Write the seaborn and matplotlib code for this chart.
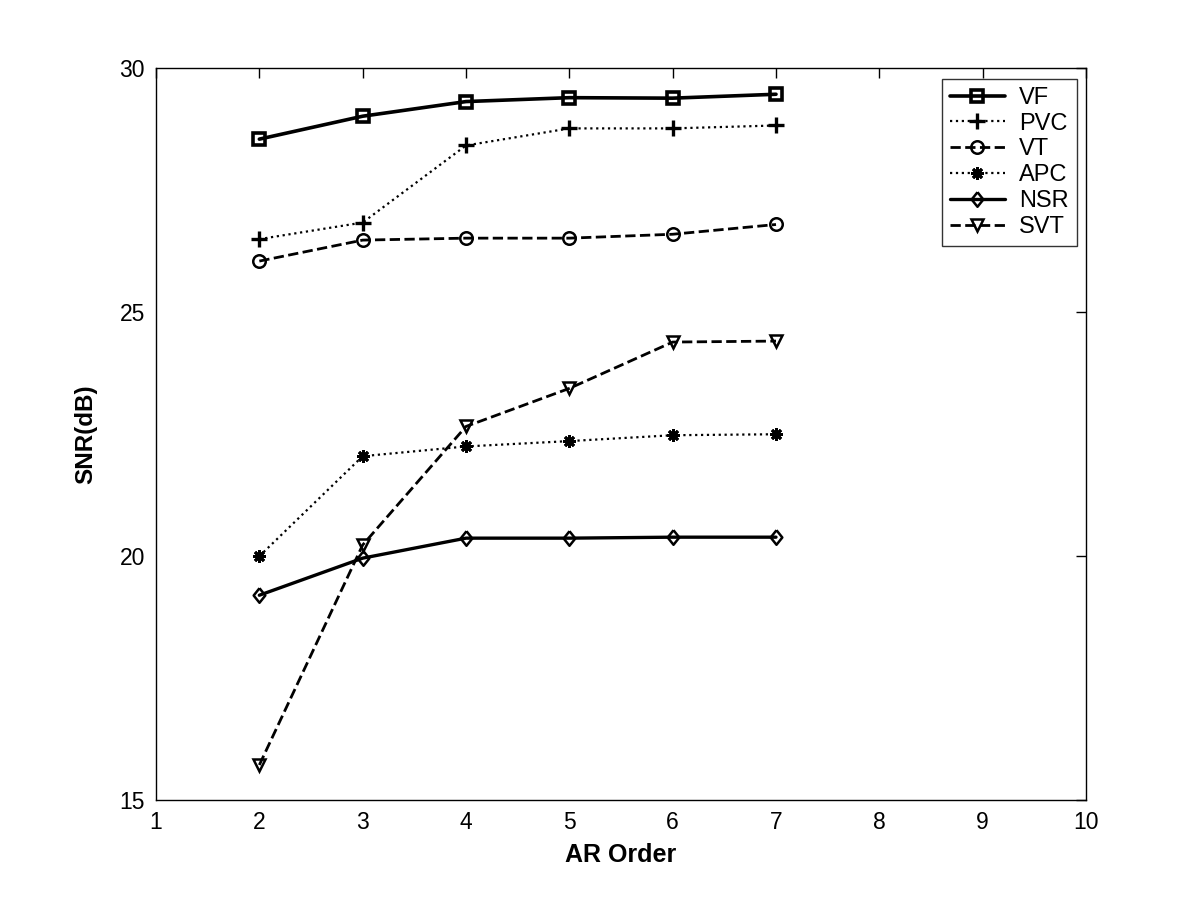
import pandas as pd
import matplotlib
matplotlib.use("Agg")
import matplotlib.pyplot as plt
import seaborn as sns

sns.set_theme(style="white")
plt.rcParams['font.family'] = ['Liberation Sans', 'DejaVu Sans']

# Data
ar_order = [2, 3, 4, 5, 6, 7]
vf = [28.55, 29.02, 29.32, 29.40, 29.39, 29.47]
pvc = [26.50, 26.84, 28.42, 28.77, 28.77, 28.83]
vt = [26.05, 26.48, 26.52, 26.52, 26.60, 26.80]
apc = [20.00, 22.05, 22.25, 22.36, 22.48, 22.50]
nsr = [19.20, 19.96, 20.37, 20.37, 20.39, 20.39]
svt = [15.72, 20.23, 22.66, 23.44, 24.39, 24.41]

series = {'VF': vf, 'PVC': pvc, 'VT': vt, 'APC': apc, 'NSR': nsr, 'SVT': svt}

rows = []
for name, vals in series.items():
    for x, y in zip(ar_order, vals):
        rows.append({'order': x, 'snr': y, 'rhythm': name})
df = pd.DataFrame(rows)

# matlab-like diamond, a bit taller than wide
diamond = [(0, 1), (0.8, 0), (0, -1), (-0.8, 0), (0, 1)]

# line style per rhythm: (linestyle, marker, linewidth, markersize, edgewidth)
styles = {
    'VF':  ('-',  's', 2.6, 8, 2.6),
    'PVC': (':',  '+', 1.6, 12, 2.4),
    'VT':  ('--', 'o', 2.0, 9, 1.8),
    'APC': (':',  (8, 2, 0), 1.6, 9, 2.0),
    'NSR': ('-',  diamond, 2.4, 10.5, 1.8),
    'SVT': ('--', 'v', 2.0, 9, 1.8),
}

fig = plt.figure(figsize=(12, 9), dpi=100)
ax = fig.add_axes([0.13, 0.111, 0.775, 0.813])

for name in series:
    ls, mk, lw, ms, mew = styles[name]
    sub = df[df['rhythm'] == name]
    sns.lineplot(data=sub, x='order', y='snr', ax=ax, color='black',
                 linestyle=ls, linewidth=lw, marker=mk, markersize=ms,
                 markerfacecolor='none', markeredgecolor='black',
                 markeredgewidth=mew, label=name)

ax.set_xlim(1, 10)
ax.set_ylim(15, 30)
ax.set_xticks(range(1, 11))
ax.set_yticks([15, 20, 25, 30])
ax.tick_params(direction='in', length=7, width=1, labelsize=16.5,
               top=True, right=True, colors='black', pad=8)
for s in ax.spines.values():
    s.set_color('black')
    s.set_linewidth(1)

ax.set_xlabel('AR Order', fontsize=18, fontweight='bold', labelpad=6,
              color='black')
ax.set_ylabel('SNR(dB)', fontsize=17.5, fontweight='bold', labelpad=16,
              color='black')

leg = ax.legend(loc='upper right', bbox_to_anchor=(0.99, 0.986), fontsize=17,
                frameon=True, fancybox=False, edgecolor='black',
                handlelength=2.3, borderpad=0.35, labelspacing=0.16,
                handletextpad=0.6, borderaxespad=0)
leg.get_frame().set_linewidth(1)
for t in leg.get_texts():
    t.set_color('black')

fig.savefig('out.png', dpi=100, facecolor='white')
